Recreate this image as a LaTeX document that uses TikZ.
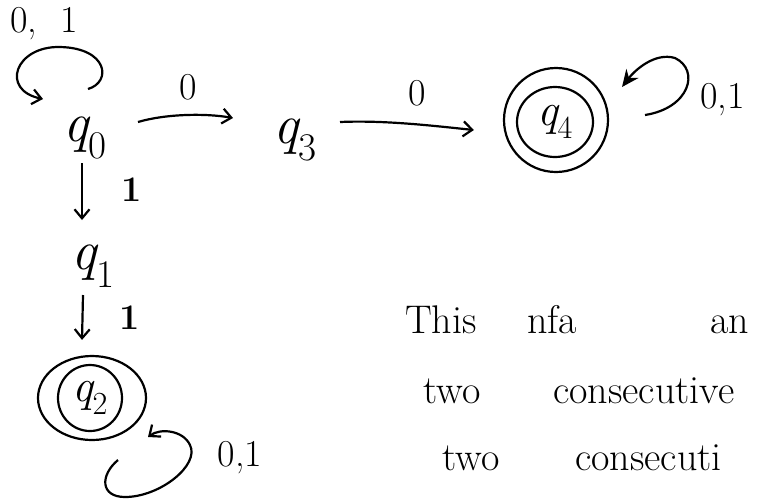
\documentclass[tikz,border=0pt]{standalone}
\usetikzlibrary{arrows.meta,shapes.geometric,calc}
\newcommand{\qs}[1]{{\itshape q}\textsubscript{#1}}
\tikzset{
  st/.style={inner sep=0pt, font=\fontsize{56}{60}\selectfont},
  stin/.style={inner sep=0pt, font=\fontsize{46}{50}\selectfont},
  ring/.style={draw, ellipse, line width=2.2pt, inner sep=0pt},
  lbl/.style={inner sep=0pt, font=\fontsize{38}{42}\selectfont},
  blbl/.style={inner sep=0pt, font=\fontsize{36}{40}\selectfont\bfseries},
  arr/.style={line width=2.2pt, -{Straight Barb[length=9pt,width=15pt,line width=2.2pt]}},
  farr/.style={line width=2.2pt, -{Stealth[length=17pt,width=15pt]}},
  word/.style={inner sep=0pt, anchor=base west, font=\fontsize{40}{44}\selectfont},
}
\begin{document}
\begin{tikzpicture}[x=1pt,y=-1pt]
\useasboundingbox (0,0) rectangle (759,499);
% states
\node[st] (q0) at (85,138) {\qs{0}};
\node[st] (q3) at (295,140) {\qs{3}};
\node[st] (q1) at (93,266) {\qs{1}};
\node[ring, stin, minimum width=76pt, minimum height=70pt] (q4) at (555,122) {\qs{4}};
\node[ring, minimum width=104pt, minimum height=104pt] (q4o) at (556,120) {};
\node[ring, stin, minimum width=64pt, minimum height=66pt] (q2) at (90,398) {\qs{2}};
\node[ring, minimum width=108pt, minimum height=84pt] (q2o) at (92,398) {};
% transitions
\draw[arr] ($(q0)+(53,-16)$) .. controls ($(q0)+(80,-24)$) and ($(q0)+(120,-25)$) .. ($(q3)+(-62,-22)$);
\draw[arr] ($(q3)+(45,-18)$) .. controls ($(q3)+(90,-20)$) and ($(q3)+(140,-14)$) .. ($(q4o.west)+(-29,10)$);
\draw[arr] ($(q0)+(-3,25)$) -- ($(q1)+(-11,-46)$);
\draw[arr] ($(q1)+(-10,29)$) -- ($(q2o.north)+(-10,-15)$);
% loops
\draw[arr] ($(q0)+(3,-49)$) .. controls ($(q0)+(27,-56)$) and ($(q0)+(23,-90)$) .. ($(q0)+(-25,-91)$)
  .. controls ($(q0)+(-70,-92)$) and ($(q0)+(-85,-48)$) .. ($(q0)+(-42,-39)$);
\draw[farr] ($(q4o)+(89,-5)$) .. controls ($(q4o)+(134,-12)$) and ($(q4o)+(144,-50)$) .. ($(q4o)+(119,-62)$)
  .. controls ($(q4o)+(99,-68)$) and ($(q4o)+(79,-50)$) .. ($(q4o)+(66,-33)$);
\draw[arr] ($(q2o)+(26,62)$) .. controls ($(q2o)+(8,77)$) and ($(q2o)+(8,99)$) .. ($(q2o)+(33,99)$)
  .. controls ($(q2o)+(68,99)$) and ($(q2o)+(108,67)$) .. ($(q2o)+(98,47)$)
  .. controls ($(q2o)+(91,32)$) and ($(q2o)+(68,30)$) .. ($(q2o)+(56,39)$);
% labels
\node[lbl] (l0) at (44,24) {0,\ \ 1};
\node[lbl] (l03) at (188,87) {0};
\node[lbl] (l34) at (417,93) {0};
\node[blbl] (l01) at (132,190) {1};
\node[blbl] (l12) at (130,318) {1};
\node[lbl, anchor=west] (l4) at (700,100) {0,1};
\node[lbl] (l2) at (240,458) {0,1};
% text
\node[word] (w1) at (405,333) {This};
\node[word] (w2) at (527,333) {nfa};
\node[word] (w3) at (710,333) {an};
\node[word] (w4) at (423,403) {two};
\node[word] (w5) at (553,403) {consecutive};
\node[word] (w6) at (442,470) {two};
\node[word] (w7) at (575,470) {consecuti};
\end{tikzpicture}
\end{document}
